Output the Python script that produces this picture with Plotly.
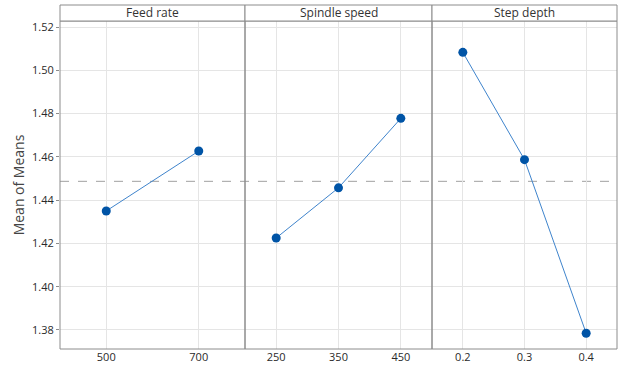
import plotly.graph_objects as go

factors = ["Feed rate", "Spindle speed", "Step depth"]
levels = [["500", "700"], ["250", "350", "450"], ["0.2", "0.3", "0.4"]]
means = [[1.435, 1.4627], [1.4225, 1.4457, 1.4778], [1.5083, 1.4587, 1.3785]]
grand_mean = 1.4487
y_ticks = [1.38, 1.40, 1.42, 1.44, 1.46, 1.48, 1.50, 1.52]

W, H = 619, 370
ml, mr, mt, mb = 60, 2, 21, 21
pw = W - ml - mr
ph = H - mt - mb
bounds_px = [60, 245, 432, 617]
doms = [[(bounds_px[i] - ml) / pw, (bounds_px[i + 1] - ml) / pw] for i in range(3)]

FONT = "Open Sans"
blue = "#0054A6"
line_blue = "#3F84CC"
grid = "#E5E5E5"
border = "#8C8C8C"

fig = go.Figure()
shapes = []
annotations = []
for i in range(3):
    xa = "x" if i == 0 else f"x{i+1}"
    ya = "y" if i == 0 else f"y{i+1}"
    idx = list(range(len(levels[i])))
    fig.add_trace(go.Scatter(
        x=idx, y=means[i], xaxis=xa, yaxis=ya, mode="lines+markers",
        line=dict(color=line_blue, width=1),
        marker=dict(color=blue, size=9),
        showlegend=False, hoverinfo="skip"))
    n = len(levels[i])
    xkey = "xaxis" if i == 0 else f"xaxis{i+1}"
    ykey = "yaxis" if i == 0 else f"yaxis{i+1}"
    fig.layout[xkey] = dict(
        domain=doms[i], anchor=ya, range=[-0.5, n - 0.5],
        tickmode="array", tickvals=idx, ticktext=levels[i],
        showgrid=True, gridcolor=grid, gridwidth=1, zeroline=False,
        showline=False, ticks="", automargin=False,
        tickfont=dict(family=FONT, size=11, color="#2A2A2A"),
        fixedrange=True)
    yd = dict(
        domain=[0, 1], anchor=xa, range=[1.3712, 1.5228],
        tickmode="array", tickvals=y_ticks,
        ticktext=[f"{v:.2f}" for v in y_ticks],
        showgrid=True, gridcolor=grid, gridwidth=1, zeroline=False,
        showline=False, fixedrange=True, automargin=False)
    if i == 0:
        yd.update(ticks="outside", ticklen=3, tickcolor=border,
                  tickfont=dict(family=FONT, size=11, color="#2A2A2A"),
                  title=dict(text="Mean of Means", font=dict(family=FONT, size=14, color="#444444"), standoff=4))
    else:
        yd.update(showticklabels=False, ticks="", matches="y")
    fig.layout[ykey] = yd
    shapes.append(dict(type="rect", xref="paper", yref="paper",
                       x0=doms[i][0], x1=doms[i][1], y0=0, y1=1,
                       line=dict(color=border, width=1)))
    shapes.append(dict(type="rect", xref="paper", yref="paper",
                       x0=doms[i][0], x1=doms[i][1], y0=1, y1=1 + 16 / ph,
                       line=dict(color=border, width=1), fillcolor="white"))
    annotations.append(dict(text=factors[i], xref="paper", yref="paper",
                            x=(doms[i][0] + doms[i][1]) / 2, y=1 + 8 / ph,
                            xanchor="center", yanchor="middle", showarrow=False,
                            font=dict(family=FONT, size=12, color="#333333")))

shapes.append(dict(type="line", xref="paper", yref="y", x0=0, x1=1,
                   y0=grand_mean, y1=grand_mean,
                   line=dict(color="#A0A0A0", width=1, dash="dash"), layer="below"))

fig.update_layout(
    width=W, height=H, margin=dict(l=ml, r=mr, t=mt, b=mb),
    plot_bgcolor="white", paper_bgcolor="white",
    shapes=shapes, annotations=annotations,
)
fig.write_html("out.html", config={"displayModeBar": False},
               post_script="document.body.style.margin='0';document.body.style.overflow='hidden';")
